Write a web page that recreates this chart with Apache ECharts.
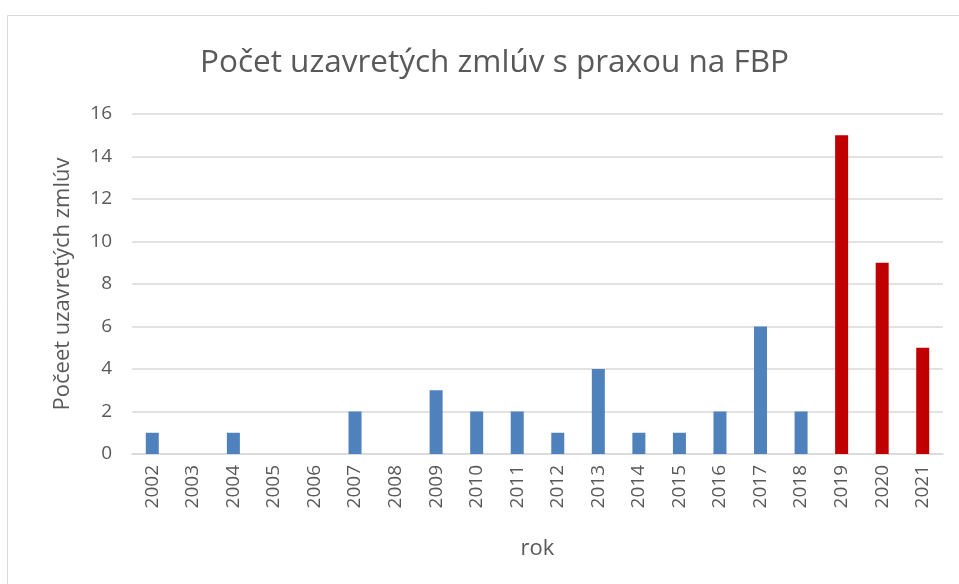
<!DOCTYPE html>
<html><head><meta charset="utf-8">
<script src="https://cdn.jsdelivr.net/npm/echarts@6/dist/echarts.min.js"></script>
<style>html,body{margin:0;padding:0;background:#fff}#c{width:959px;height:584px}</style>
</head><body><div id="c"></div>
<script>
const categories = ['2002','2003','2004','2005','2006','2007','2008','2009','2010','2011','2012','2013','2014','2015','2016','2017','2018','2019','2020','2021'];
const valuesBlue = [1,0,1,0,0,2,0,3,2,2,1,4,1,1,2,6,2,null,null,null];
const valuesRed  = [null,null,null,null,null,null,null,null,null,null,null,null,null,null,null,null,null,15,9,5];
const yTicks = [0,2,4,6,8,10,12,14,16];

const font = 'Open Sans';
const chart = echarts.init(document.getElementById('c'), null, {renderer:'canvas'});
chart.setOption({
  animation:false,
  backgroundColor:'#fff',
  graphic:[{type:'rect',shape:{x:7.5,y:15.5,width:960,height:600},style:{fill:'none',stroke:'#d9d9d9',lineWidth:1}}],
  title:{text:'Počet uzavretých zmlúv s praxou na FBP',left:195,top:42,
    textStyle:{fontFamily:font,fontSize:31.5,fontWeight:'normal',color:'#595959'}},
  grid:{left:132,right:16,top:114,bottom:130,containLabel:false},
  xAxis:{type:'category',data:categories,
    name:'rok',nameLocation:'middle',nameGap:84,
    nameTextStyle:{fontFamily:font,fontSize:22,color:'#595959'},
    axisLine:{lineStyle:{color:'#d9d9d9',width:1.5}},axisTick:{show:false},
    axisLabel:{rotate:90,fontFamily:font,fontSize:19,color:'#595959',margin:11,interval:0}},
  yAxis:{type:'value',min:yTicks[0],max:yTicks[yTicks.length-1],interval:2,
    name:'Počeet uzavretých zmlúv',nameLocation:'middle',nameGap:58,
    nameTextStyle:{fontFamily:font,fontSize:22,color:'#595959'},
    axisLine:{show:false},axisTick:{show:false},
    axisLabel:{fontFamily:font,fontSize:19,color:'#595959',margin:20},
    splitLine:{lineStyle:{color:'#d9d9d9',width:1.5}}},
  series:[
    {type:'bar',data:valuesBlue,barWidth:13,barGap:'-100%',itemStyle:{color:'#4f81bd'}},
    {type:'bar',data:valuesRed,barWidth:13,barGap:'-100%',itemStyle:{color:'#c00000'}}
  ]
});
</script></body></html>
